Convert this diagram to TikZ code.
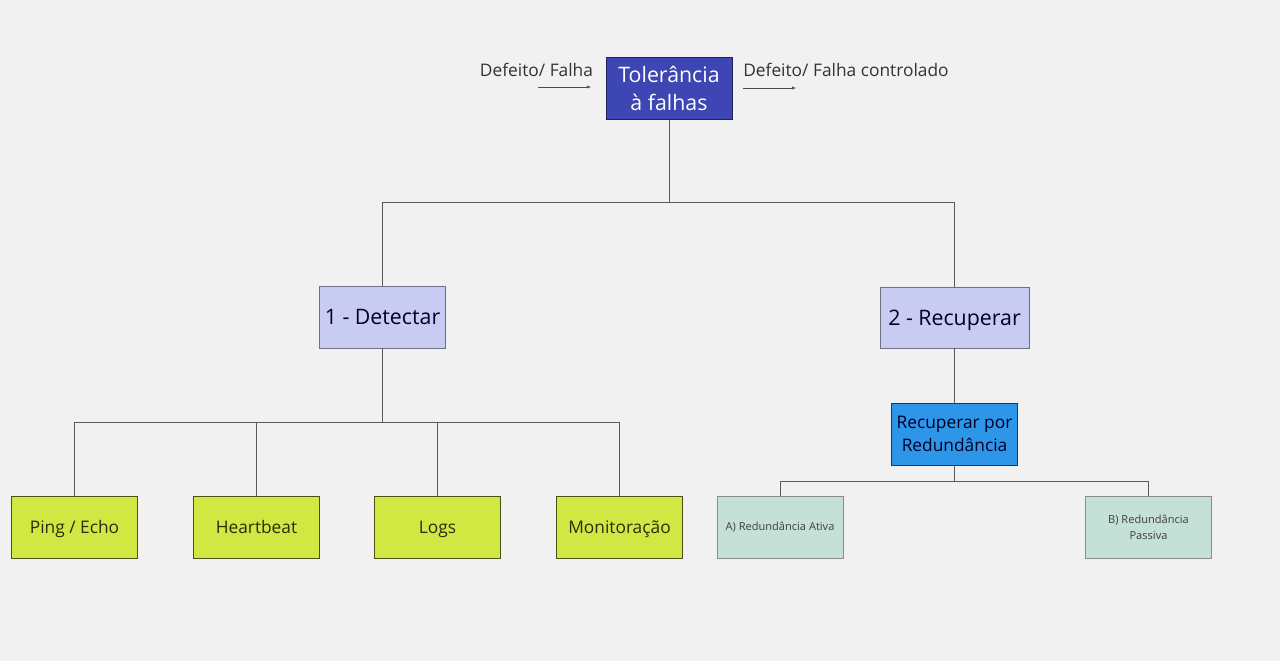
\documentclass[tikz,border=0pt]{standalone}
\usepackage{fontspec}
\setmainfont{Open Sans}
\usepackage{xcolor}
\usetikzlibrary{positioning,arrows.meta}

\definecolor{bgpage}{HTML}{F1F1F1}
\definecolor{topblue}{HTML}{3D46B2}
\definecolor{lavender}{HTML}{C8CCF2}
\definecolor{lime}{HTML}{D1E742}
\definecolor{skyblue}{HTML}{2D96E8}
\definecolor{mint}{HTML}{C5E0D7}
\definecolor{wire}{HTML}{5A5A5A}

\begin{document}
\begin{tikzpicture}[
  x=0.75pt, y=-0.75pt,
  >={Latex[length=3pt,width=2.4pt]},
  box/.style={draw, line width=0.5pt, align=center, inner sep=1pt, outer sep=0pt,
    minimum width=94.5pt, minimum height=46.5pt},
  oneline/.style={text height=#1, text depth=0pt},
  root/.style={box, fill=topblue, draw=topblue!50!black, text=white,
    font=\fontsize{16}{21}\selectfont},
  phase/.style={box, oneline=11.4pt, fill=lavender, draw=lavender!55!black, text=black!85!blue,
    font=\fontsize{16}{21}\selectfont},
  tactic/.style={box, oneline=9.3pt, fill=lime, draw=lime!35!black, text=lime!20!black,
    font=\fontsize{13}{17}\selectfont},
  method/.style={box, fill=skyblue, draw=skyblue!40!black, text=black!85!blue,
    font=\fontsize{13}{17}\selectfont},
  kind/.style={box, fill=mint, draw=black!45, text=black!75,
    font=\fontsize{8.3}{12}\selectfont},
  label/.style={text=black!80, font=\fontsize{13}{17}\selectfont, inner sep=0pt},
  link/.style={draw=wire, line width=0.6pt},
  flow/.style={->, draw=black!70, line width=0.4pt}
]

% background / page size
\fill[bgpage] (0,0) rectangle (1280,661);

% ------------------------------------------------------------
% Top: tolerance box with input / output
% ------------------------------------------------------------
\node[root] (ft) at (669,88.5) {Tolerância\\à falhas};

\node[label] (falha) at (536.5,70) {Defeito/ Falha};
\node[label, anchor=west] (ctrl) at (743,70) {Defeito/ Falha controlado};

\coordinate (inA) at (538,87);
\coordinate (inB) at (591,87);
\coordinate (outA) at (743,88);
\coordinate (outB) at (796,88);
\draw[flow] (inA) -- (inB);
\draw[flow] (outA) -- (outB);

% ------------------------------------------------------------
% Phases
% ------------------------------------------------------------
\node[phase] (detect) at (382.5,317) {1 - Detectar};
\node[phase, minimum width=111.75pt, minimum height=45.75pt] (recover) at (954.5,317.5) {2 - Recuperar};

\coordinate (hubtop) at (669,202.5);
\draw[link] (ft.south) -- (hubtop) -| (detect.north);
\draw[link] (hubtop) -| (recover.north);

% ------------------------------------------------------------
% Detection tactics
% ------------------------------------------------------------
\node[tactic] (ping)  at (74.5,527)  {Ping / Echo};
\node[tactic] (beat)  at (256.5,527) {Heartbeat};
\node[tactic] (logs)  at (437.5,527) {Logs};
\node[tactic] (monit) at (619.5,527) {Monitoração};

\coordinate (hubdet) at (382.5,422);
\draw[link] (detect.south) -- (hubdet);
\draw[link] (hubdet) -| (ping.north);
\draw[link] (hubdet) -| (beat.north);
\draw[link] (hubdet) -| (logs.north);
\draw[link] (hubdet) -| (monit.north);

% ------------------------------------------------------------
% Recovery by redundancy
% ------------------------------------------------------------
\node[method] (redund) at (954.5,434) {Recuperar por\\Redundância};
\draw[link] (recover.south) -- (redund.north);

\node[kind, oneline=5.9pt] (ativa) at (780,527) {A) Redundância Ativa};
\node[kind] (passiva) at (1148.5,527) {B) Redundância\\Passiva};

\coordinate (hubrec) at (954.5,481.5);
\draw[link] (redund.south) -- (hubrec);
\draw[link] (hubrec) -| (ativa.north);
\draw[link] (hubrec) -| (passiva.north);

\end{tikzpicture}
\end{document}
